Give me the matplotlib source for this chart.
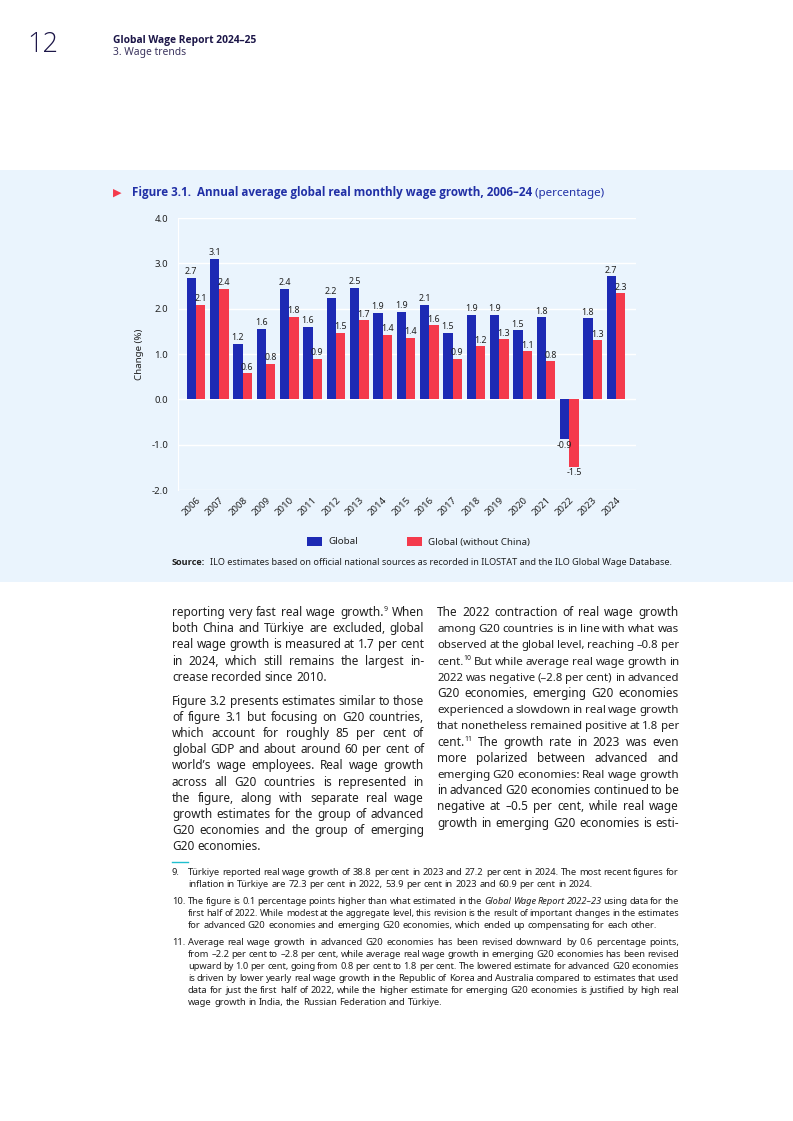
import matplotlib
matplotlib.use("Agg")
import matplotlib.pyplot as plt
import numpy as np
from matplotlib.patches import Rectangle

plt.rcParams["font.family"] = ["Noto Sans", "DejaVu Sans"]
BOLD = ["Open Sans", "DejaVu Sans"]

W, H = 793, 1121

years = ["2006", "2007", "2008", "2009", "2010", "2011", "2012", "2013", "2014", "2015",
         "2016", "2017", "2018", "2019", "2020", "2021", "2022", "2023", "2024"]
global_growth = [2.68, 3.10, 1.23, 1.56, 2.44, 1.60, 2.24, 2.46, 1.91, 1.93,
                 2.09, 1.47, 1.87, 1.87, 1.52, 1.81, -0.88, 1.79, 2.71]
global_no_china = [2.09, 2.44, 0.57, 0.79, 1.82, 0.90, 1.47, 1.74, 1.43, 1.36,
                   1.64, 0.90, 1.17, 1.33, 1.06, 0.84, -1.49, 1.30, 2.34]
y_ticks = [-2.0, -1.0, 0.0, 1.0, 2.0, 3.0, 4.0]

col_left = [
    ["reporting very fast real wage growth.^9 When",
     "both China and Türkiye are excluded, global",
     "real wage growth is measured at 1.7 per cent",
     "in 2024, which still remains the largest in-",
     "crease recorded since 2010."],
    ["Figure 3.2 presents estimates similar to those",
     "of figure 3.1 but focusing on G20 countries,",
     "which account for roughly 85 per cent of",
     "global GDP and about around 60 per cent of",
     "world’s wage employees. Real wage growth",
     "across all G20 countries is represented in",
     "the figure, along with separate real wage",
     "growth estimates for the group of advanced",
     "G20 economies and the group of emerging",
     "G20 economies."],
]
col_right = [
    "The 2022 contraction of real wage growth",
    "among G20 countries is in line with what was",
    "observed at the global level, reaching –0.8 per",
    "cent.^10 But while average real wage growth in",
    "2022 was negative (–2.8 per cent) in advanced",
    "G20 economies, emerging G20 economies",
    "experienced a slowdown in real wage growth",
    "that nonetheless remained positive at 1.8 per",
    "cent.^11 The growth rate in 2023 was even",
    "more polarized between advanced and",
    "emerging G20 economies: Real wage growth",
    "in advanced G20 economies continued to be",
    "negative at –0.5 per cent, while real wage",
    "growth in emerging G20 economies is esti-",
]
footnotes = [
    ("9.", ["Türkiye reported real wage growth of 38.8 per cent in 2023 and 27.2 per cent in 2024. The most recent figures for",
            "inflation in Türkiye are 72.3 per cent in 2022, 53.9 per cent in 2023 and 60.9 per cent in 2024."]),
    ("10.", ["The figure is 0.1 percentage points higher than what estimated in the _Global _Wage _Report _2022–23 using data for the",
             "first half of 2022. While modest at the aggregate level, this revision is the result of important changes in the estimates",
             "for advanced G20 economies and emerging G20 economies, which ended up compensating for each other."]),
    ("11.", ["Average real wage growth in advanced G20 economies has been revised downward by 0.6 percentage points,",
             "from –2.2 per cent to –2.8 per cent, while average real wage growth in emerging G20 economies has been revised",
             "upward by 1.0 per cent, going from 0.8 per cent to 1.8 per cent. The lowered estimate for advanced G20 economies",
             "is driven by lower yearly real wage growth in the Republic of Korea and Australia compared to estimates that used",
             "data for just the first half of 2022, while the higher estimate for emerging G20 economies is justified by high real",
             "wage growth in India, the Russian Federation and Türkiye."]),
]

BLUE = "#1d2ab4"
RED = "#f43a4c"
NAVY = "#1c1648"
TEXT = "#1f1f1f"

fig = plt.figure(figsize=(W / 100, H / 100), dpi=100)
fig.patch.set_facecolor("white")
r = fig.canvas.get_renderer()


def fx(x):
    return x / W


def fy(y):
    return 1 - y / H


def txt(x, y, s, **kw):
    kw.setdefault("va", "center")
    kw.setdefault("color", TEXT)
    return fig.text(fx(x), fy(y), s, **kw)


def width(t):
    return t.get_window_extent(r).width


def put_line(line, x0, x1, y, size, justify):
    # y is the middle of the x-height; words share one baseline
    base = y + 0.26 * size * 100 / 72
    pieces = []
    for tok in line.split(" "):
        style = "normal"
        if tok.startswith("_"):
            tok, style = tok[1:], "italic"
        main, sup = (tok.split("^") + [""])[:2]
        t = txt(0, base, main, fontsize=size, style=style, va="baseline")
        s = None
        if sup:
            s = txt(0, base - size * 0.55, sup, fontsize=size * 0.6, va="baseline")
        pieces.append((t, s))

    def widths():
        return [width(t) + (width(s) if s else 0) for t, s in pieces]

    ws = widths()
    min_gap = 0.2 * size * 100 / 72
    gap = 0.26 * size * 100 / 72
    n = len(pieces)
    if justify and n > 1:
        room = x1 - x0 - min_gap * (n - 1)
        if sum(ws) > room:
            # squeeze the type a little instead of gluing the words together
            k = room / sum(ws)
            for t, s in pieces:
                t.set_fontsize(t.get_fontsize() * k)
                if s:
                    s.set_fontsize(s.get_fontsize() * k)
            ws = widths()
        gap = (x1 - x0 - sum(ws)) / (n - 1)
    x = x0
    for (t, s), w in zip(pieces, ws):
        t.set_x(fx(x))
        if s:
            s.set_x(fx(x + width(t)))
        x += w + gap


# page header
txt(27, 45, "12", fontsize=19.5, color=NAVY, fontweight="light", family=BOLD)
txt(113, 40, "Global Wage Report 2024–25", fontsize=7.4, color=NAVY, fontweight="bold", family=BOLD)
txt(113, 53, "3. Wage trends", fontsize=7.4, color="#3b345e")

# figure panel
fig.patches.append(Rectangle((0, fy(582)), 1, (582 - 170) / H, transform=fig.transFigure,
                             facecolor="#eaf4fd", edgecolor="none", zorder=-10))
fig.text(fx(117), fy(193), "▶", fontsize=8, color=RED, ha="center", va="center",
         family=["DejaVu Sans"])
t1 = txt(132, 196, "Figure 3.1.  Annual average global real monthly wage growth, 2006–24",
         fontsize=8.35, color="#2130a6", fontweight="bold", family=BOLD, va="baseline")
txt(132 + width(t1), 196, " (percentage)", fontsize=8.35, color="#2130a6", va="baseline")

ax = fig.add_axes([fx(178), fy(490), (636 - 178) / W, (490 - 218) / H])
ax.set_facecolor("none")
x = np.arange(len(years))
bw = 0.4
b1 = ax.bar(x - bw / 2, global_growth, bw, color=BLUE, zorder=3)
b2 = ax.bar(x + bw / 2, global_no_china, bw, color=RED, zorder=3)
for bars in (b1, b2):
    ax.bar_label(bars, fmt="%.1f", fontsize=6.4, color="#222222", padding=1, zorder=4)
ax.set_xlim(-0.77, 18.86)
ax.set_ylim(-2.0, 4.0)
ax.set_yticks(y_ticks)
ax.set_yticklabels([f"{v:.1f}" for v in y_ticks], fontsize=6.9, color="#222222")
ax.set_xticks(x)
ax.set_xticklabels(years, rotation=45, ha="right", rotation_mode="anchor",
                   fontsize=6.9, color="#222222")
ax.tick_params(length=0, pad=7)
ax.tick_params(axis="x", pad=4)
ax.grid(axis="y", color="white", linewidth=1, zorder=1)
for side in ["top", "right", "bottom"]:
    ax.spines[side].set_visible(False)
ax.spines["left"].set_color("white")
ax.set_ylabel("Change (%)", fontsize=7, color="#222222", labelpad=5)

# legend
for lx, c, lab in [(307, BLUE, "Global"), (407, RED, "Global (without China)")]:
    fig.patches.append(Rectangle((fx(lx), fy(546)), 15 / W, 9 / H, transform=fig.transFigure,
                                 facecolor=c, edgecolor="none"))
    txt(lx + 21, 542, lab, fontsize=7, color="#222222")

ts = txt(172, 565, "Source:", fontsize=6.6, fontweight="bold", family=BOLD, va="baseline")
txt(172 + width(ts) + 5, 565,
    "ILO estimates based on official national sources as recorded in ILOSTAT and the ILO Global Wage Database.",
    fontsize=6.6, va="baseline")

# body text
BODY = 8.5
y = 613
for para in col_left:
    for i, line in enumerate(para):
        put_line(line, 172, 424, y, BODY, i < len(para) - 1)
        y += 16.2
    y += 7.6
y = 613
for line in col_right:
    put_line(line, 437, 679, y, BODY, True)
    y += 16.2

# footnotes
fig.lines.append(plt.Line2D([fx(172), fx(188)], [fy(862), fy(862)], transform=fig.transFigure,
                            color="#1fbfcf", linewidth=1))
FN = 6.75
y = 873
for num, lines in footnotes:
    put_line(num, 172, 188, y, FN, False)
    for i, line in enumerate(lines):
        put_line(line, 188, 679, y, FN, i < len(lines) - 1)
        y += 12
    y += 5

fig.savefig("out.png", dpi=100, facecolor="white")
